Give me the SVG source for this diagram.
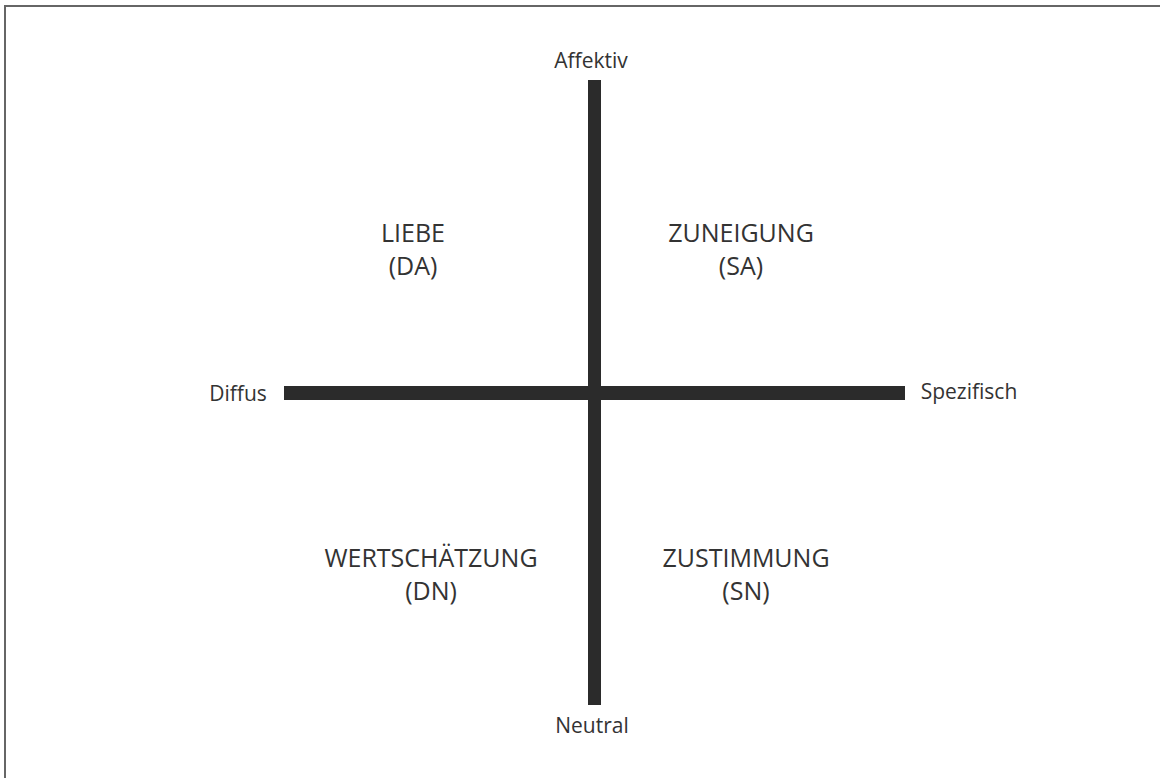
<svg xmlns="http://www.w3.org/2000/svg" width="1163" height="778" viewBox="0 0 1163 778">
<style>
text{font-family:"Open Sans","Noto Sans","DejaVu Sans",sans-serif;fill:#333;text-anchor:middle}
.ax{font-size:21px}
.q{font-size:25px}
.bar{fill:#2b2b2b}
</style>
<rect width="1163" height="778" fill="#fff"/>
<path d="M5 778 V6 H1160" fill="none" stroke="#666" stroke-width="2"/>
<g id="connectors">
<rect class="bar" x="588" y="80" width="13" height="625"/>
<rect class="bar" x="284" y="386" width="621" height="14"/>
</g>
<g id="affektiv"><text class="ax" x="591" y="68">Affektiv</text></g>
<g id="neutral"><text class="ax" x="592" y="733">Neutral</text></g>
<g id="diffus"><text class="ax" x="238" y="401">Diffus</text></g>
<g id="spezifisch"><text class="ax" x="969" y="399">Spezifisch</text></g>
<g id="liebe"><text class="q" x="413" y="242">LIEBE</text><text class="q" x="413" y="275">(DA)</text></g>
<g id="zuneigung"><text class="q" x="741" y="242">ZUNEIGUNG</text><text class="q" x="741" y="275">(SA)</text></g>
<g id="wertschaetzung"><text class="q" x="431" y="567">WERTSCHÄTZUNG</text><text class="q" x="431" y="600">(DN)</text></g>
<g id="zustimmung"><text class="q" x="746" y="567">ZUSTIMMUNG</text><text class="q" x="746" y="600">(SN)</text></g>
</svg>
